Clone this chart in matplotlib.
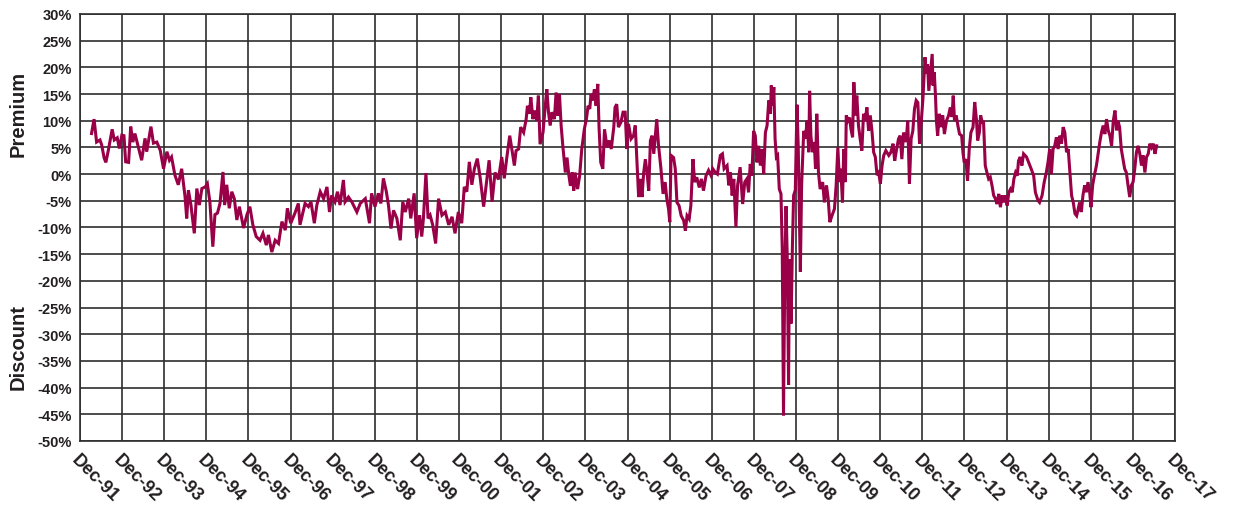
#!/usr/bin/env python3
# -*- coding: utf-8 -*-

import numpy as np
from matplotlib import pyplot as plt
from matplotlib.ticker import FixedLocator

# premium / discount: (decimal year, percent)
trace_92_96 = [
    (1992.19, 7.6), (1992.25, 10.3), (1992.31, 6.0), (1992.39, 6.4), (1992.43, 5.5),
    (1992.49, 3.0), (1992.53, 2.2), (1992.59, 4.5), (1992.68, 8.4), (1992.73, 6.4),
    (1992.80, 6.8), (1992.85, 4.8), (1992.91, 7.3), (1992.96, 7.2), (1993.00, 2.3),
    (1993.07, 2.2), (1993.12, 8.9), (1993.17, 6.0), (1993.22, 7.6), (1993.30, 5.1),
    (1993.38, 2.6), (1993.46, 6.7), (1993.50, 4.2), (1993.60, 8.9), (1993.66, 5.8),
    (1993.74, 6.0), (1993.82, 4.5), (1993.90, 1.0), (1993.98, 4.2), (1994.04, 2.6),
    (1994.09, 3.2), (1994.17, -0.2), (1994.25, -2.0), (1994.33, 1.0), (1994.41, -4.2),
    (1994.45, -8.3), (1994.49, -3.0), (1994.55, -5.8), (1994.63, -11.1), (1994.69, -2.7),
    (1994.75, -5.8), (1994.81, -2.7), (1994.89, -2.4), (1994.94, -1.8), (1995.00, -5.2),
    (1995.07, -13.6), (1995.12, -7.6), (1995.18, -7.3), (1995.24, -5.5), (1995.31, 0.4),
    (1995.35, -5.8), (1995.40, -2.0), (1995.46, -6.4), (1995.52, -3.3), (1995.58, -4.6),
    (1995.64, -8.6), (1995.70, -6.1), (1995.80, -10.1), (1995.88, -7.6), (1995.95, -6.1),
    (1996.02, -9.5), (1996.10, -11.7), (1996.19, -12.4), (1996.26, -11.1), (1996.34, -13.3),
    (1996.39, -11.4), (1996.47, -14.6), (1996.55, -12.4), (1996.63, -13.0), (1996.71, -8.9),
    (1996.79, -10.5), (1996.84, -6.4), (1996.92, -9.2), (1997.02, -7.3), (1997.10, -5.5),
]

trace_97_01 = [
    (1997.14, -9.5), (1997.26, -5.5), (1997.34, -6.1), (1997.40, -5.2), (1997.48, -9.2),
    (1997.54, -5.8), (1997.62, -3.3), (1997.70, -4.6), (1997.78, -2.4), (1997.84, -7.1),
    (1997.89, -4.0), (1997.97, -5.2), (1998.03, -3.3), (1998.09, -5.8), (1998.17, -1.1),
    (1998.21, -5.2), (1998.29, -4.3), (1998.37, -5.2), (1998.49, -7.1), (1998.57, -5.5),
    (1998.69, -4.6), (1998.79, -9.2), (1998.84, -3.6), (1998.92, -6.1), (1999.00, -3.6),
    (1999.06, -5.5), (1999.12, -0.8), (1999.19, -3.3), (1999.24, -5.8), (1999.30, -10.2),
    (1999.36, -6.8), (1999.44, -8.3), (1999.52, -12.4), (1999.58, -5.2), (1999.64, -7.1),
    (1999.72, -4.6), (1999.77, -8.3), (1999.85, -3.6), (1999.91, -12.0), (1999.98, -7.7),
    (2000.03, -11.7), (2000.07, -8.3), (2000.13, 0.2), (2000.18, -8.3), (2000.23, -7.7),
    (2000.29, -9.5), (2000.36, -13.0), (2000.43, -4.6), (2000.51, -7.7), (2000.59, -7.1),
    (2000.67, -9.5), (2000.75, -8.0), (2000.82, -11.1), (2000.90, -7.1), (2000.98, -9.2),
    (2001.04, -2.4), (2001.10, -3.3), (2001.16, 2.3), (2001.22, -2.0), (2001.28, 1.0),
    (2001.35, 2.9), (2001.42, -0.8), (2001.50, -6.1), (2001.58, -0.8), (2001.63, 2.6),
    (2001.70, -5.2), (2001.77, 0.3), (2001.85, -1.0), (2001.93, 3.2), (2001.99, -0.8),
]

trace_02_06 = [
    (2002.05, 3.1), (2002.12, 7.2), (2002.17, 4.7), (2002.23, 1.6), (2002.27, 4.4),
    (2002.33, 4.7), (2002.38, 8.8), (2002.45, 7.8), (2002.51, 10.3), (2002.54, 12.8),
    (2002.59, 11.3), (2002.62, 14.4), (2002.67, 10.3), (2002.72, 11.9), (2002.76, 10.0),
    (2002.80, 14.7), (2002.84, 5.6), (2002.91, 7.8), (2002.96, 12.5), (2003.00, 15.9),
    (2003.04, 11.6), (2003.08, 9.1), (2003.12, 11.6), (2003.18, 10.3), (2003.22, 15.3),
    (2003.26, 10.9), (2003.30, 15.0), (2003.34, 9.1), (2003.38, 5.3), (2003.44, 0.3),
    (2003.48, 3.1), (2003.52, 0.0), (2003.56, -2.2), (2003.60, 0.3), (2003.64, -3.1),
    (2003.67, 0.3), (2003.73, -2.8), (2003.78, -0.3), (2003.83, 4.7), (2003.89, 8.4),
    (2003.94, 10.3), (2003.98, 12.8), (2004.02, 12.2), (2004.05, 15.0), (2004.09, 13.8),
    (2004.13, 15.9), (2004.17, 12.8), (2004.21, 16.9), (2004.24, 8.8), (2004.28, 2.2),
    (2004.33, 1.0), (2004.37, 8.4), (2004.43, 5.0), (2004.48, 6.3), (2004.53, 4.7),
    (2004.59, 8.8), (2004.62, 12.5), (2004.66, 13.1), (2004.70, 8.8), (2004.76, 9.7),
    (2004.81, 11.6), (2004.86, 11.6), (2004.90, 4.7), (2004.94, 9.4), (2005.00, 6.6),
    (2005.06, 7.2), (2005.10, 9.1), (2005.14, 2.2), (2005.18, -4.3), (2005.22, -0.9),
    (2005.26, -4.3), (2005.30, 0.3), (2005.34, 2.8), (2005.38, 0.3), (2005.42, -3.1),
    (2005.46, 6.3), (2005.50, 7.2), (2005.54, 3.8), (2005.58, 7.5), (2005.61, 10.3),
    (2005.65, 5.6), (2005.71, 1.0), (2005.76, -3.7), (2005.81, -1.5), (2005.85, -4.7),
    (2005.89, -6.5), (2005.92, -9.0), (2005.95, 3.5), (2006.01, 3.1), (2006.05, 1.0),
    (2006.09, -5.3), (2006.14, -5.9), (2006.19, -7.8), (2006.25, -8.7), (2006.29, -10.6),
    (2006.33, -7.8), (2006.38, -8.4), (2006.42, -5.9), (2006.47, 2.8), (2006.51, -1.5),
    (2006.56, -0.6), (2006.62, -2.5), (2006.67, -0.9), (2006.72, -3.1), (2006.78, -0.3),
    (2006.84, 0.7), (2006.90, -0.3),
]

trace_07_11 = [
    (2006.94, 1.0), (2007.00, 0.3), (2007.05, 0.0), (2007.12, 3.5), (2007.17, 3.8),
    (2007.21, 1.0), (2007.28, 1.6), (2007.32, -2.1), (2007.36, 0.3), (2007.40, -4.0),
    (2007.44, -0.9), (2007.49, -9.9), (2007.53, -2.1), (2007.59, 1.3), (2007.65, -5.6),
    (2007.70, -1.5), (2007.75, -0.9), (2007.79, -3.4), (2007.83, 1.9), (2007.87, -0.3),
    (2007.91, 8.1), (2007.95, 7.2), (2007.99, 2.2), (2008.03, 5.3), (2008.07, 1.6),
    (2008.11, 4.7), (2008.15, 0.0), (2008.19, 7.8), (2008.23, 9.1), (2008.27, 13.8),
    (2008.31, 11.3), (2008.33, 16.6), (2008.36, 12.8), (2008.39, 16.3), (2008.42, 6.6),
    (2008.45, 3.2), (2008.48, 3.5), (2008.52, -2.8), (2008.56, -3.7),
    # late 2008 collapse
    (2008.59, -14.0), (2008.62, -45.2), (2008.65, -19.0), (2008.68, -6.0), (2008.71, -16.0),
    (2008.74, -39.5), (2008.76, -16.0), (2008.80, -28.0), (2008.83, -14.0), (2008.86, -4.0),
    (2008.90, -3.0), (2008.94, 13.0), (2008.97, 5.0), (2009.02, -18.3), (2009.05, -2.0),
    (2009.10, 8.1), (2009.14, 6.6), (2009.18, 10.0), (2009.22, 4.1), (2009.24, 15.6),
    (2009.27, 7.2), (2009.31, 4.1), (2009.35, 6.0), (2009.38, 1.0), (2009.41, 11.3),
    (2009.45, 0.3), (2009.49, -2.8), (2009.55, -1.5), (2009.59, -5.3), (2009.64, -2.1),
    (2009.68, -4.6), (2009.72, -9.0), (2009.77, -7.8), (2009.83, -6.5), (2009.87, -2.1),
    (2009.91, 5.0), (2009.95, -1.5), (2009.98, 1.0), (2010.02, -5.3), (2010.05, 4.7),
    (2010.09, -1.5), (2010.11, 11.0), (2010.15, 10.0), (2010.19, 10.6), (2010.22, 8.5),
    (2010.26, 6.9), (2010.29, 17.2), (2010.33, 11.0), (2010.36, 14.7), (2010.40, 9.1),
    (2010.44, 6.6), (2010.48, 4.4), (2010.52, 11.3), (2010.56, 10.0), (2010.60, 12.5),
    (2010.64, 8.1), (2010.68, 11.0), (2010.72, 8.1), (2010.76, 4.1), (2010.80, 3.2),
    (2010.84, -0.2), (2010.88, 0.3), (2010.92, -1.8), (2010.96, 1.6), (2011.00, 3.5),
    (2011.05, 4.4), (2011.12, 3.5), (2011.17, 4.1), (2011.22, 5.7), (2011.26, 2.5),
    (2011.30, 4.4), (2011.35, 6.6), (2011.39, 7.2), (2011.43, 2.8), (2011.47, 7.8),
    (2011.53, 6.0), (2011.57, 10.0), (2011.61, -1.8), (2011.65, 6.6), (2011.69, 8.1),
    (2011.73, 12.2), (2011.77, 13.8), (2011.81, 13.4), (2011.85, 5.7), (2011.89, 9.7),
    (2011.93, 14.1),
]

trace_12_17 = [
    (2011.98, 21.9), (2012.01, 18.8), (2012.04, 20.6), (2012.07, 15.6), (2012.11, 19.1),
    (2012.15, 22.5), (2012.17, 16.6), (2012.20, 19.1), (2012.23, 14.4), (2012.25, 10.0),
    (2012.28, 7.2), (2012.32, 11.3), (2012.36, 8.8), (2012.40, 11.0), (2012.44, 7.5),
    (2012.49, 10.0), (2012.54, 11.0), (2012.58, 12.5), (2012.62, 10.7), (2012.65, 14.7),
    (2012.68, 10.0), (2012.72, 11.0), (2012.76, 9.1), (2012.80, 7.5), (2012.85, 7.2),
    (2012.88, 4.1), (2012.91, 2.2), (2012.95, 2.8), (2012.99, -1.2), (2013.03, 4.7),
    (2013.07, 7.8), (2013.12, 8.8), (2013.16, 13.5), (2013.20, 10.3), (2013.23, 6.3),
    (2013.27, 7.8), (2013.30, 11.0), (2013.34, 9.7), (2013.37, 9.7), (2013.41, 1.6),
    (2013.45, 0.3), (2013.49, -0.9), (2013.53, -0.6), (2013.57, -2.1), (2013.61, -4.0),
    (2013.65, -4.6), (2013.69, -5.6), (2013.73, -3.7), (2013.77, -6.2), (2013.81, -4.0),
    (2013.85, -5.3), (2013.89, -4.0), (2013.93, -5.9), (2013.97, -3.4), (2014.01, -2.8),
    (2014.05, -3.4), (2014.09, -0.9), (2014.13, 0.3), (2014.17, -0.3), (2014.20, 2.5),
    (2014.24, 3.2), (2014.28, 1.6), (2014.32, 3.8), (2014.39, 3.2), (2014.44, 2.2),
    (2014.50, 1.0), (2014.56, -0.3), (2014.60, -3.4), (2014.66, -4.9), (2014.70, -5.3),
    (2014.76, -4.0), (2014.81, -1.5), (2014.86, 0.3), (2014.90, 2.2), (2014.94, 4.7),
    (2014.98, 0.0), (2015.02, 4.7), (2015.06, 5.3), (2015.10, 6.9), (2015.14, 4.7),
    (2015.18, 7.2), (2015.22, 5.7), (2015.26, 8.8), (2015.30, 7.8), (2015.34, 4.1),
    (2015.38, 4.7), (2015.42, 0.3), (2015.46, -4.0), (2015.50, -5.3), (2015.54, -7.4),
    (2015.58, -7.8), (2015.61, -6.8), (2015.65, -5.3), (2015.69, -7.1), (2015.73, -4.0),
    (2015.77, -2.1), (2015.81, -3.4), (2015.85, -1.5), (2015.89, -3.4), (2015.92, -6.2),
    (2015.96, -2.1), (2016.00, -0.3), (2016.05, 1.6), (2016.09, 3.8), (2016.13, 6.0),
    (2016.17, 7.8), (2016.21, 9.1), (2016.25, 7.5), (2016.29, 10.3), (2016.33, 8.2),
    (2016.37, 7.2), (2016.41, 5.3), (2016.45, 10.0), (2016.49, 11.9), (2016.53, 8.2),
    (2016.56, 10.0), (2016.60, 8.8), (2016.64, 4.7), (2016.68, 2.8), (2016.72, 1.0),
    (2016.76, 0.3), (2016.80, -2.1), (2016.84, -4.3), (2016.88, -2.1), (2016.92, -1.5),
    (2016.96, 1.0), (2017.00, 4.1), (2017.04, 5.3), (2017.08, 3.8), (2017.12, 1.6),
    (2017.16, 3.5), (2017.20, 0.3), (2017.24, 3.2), (2017.28, 3.8), (2017.32, 5.7),
    (2017.36, 5.0), (2017.40, 5.7), (2017.44, 3.8), (2017.48, 5.3),
]

tick_years = list(range(1991, 2018))
tick_labels = ["Dec-%02d" % (y % 100) for y in tick_years]
y_ticks = list(range(-50, 31, 5))

LINE_COLOR = "#990047"
GRID_COLOR = "#2e2e2e"
TEXT_COLOR = "#231f20"


def main():
    plt.rcParams['font.family'] = ['Liberation Sans', 'DejaVu Sans']
    plt.rcParams['font.weight'] = 'bold'

    data = np.array(trace_92_96 + trace_97_01 + trace_02_06 + trace_07_11 + trace_12_17)

    fig = plt.figure(figsize=(12.33, 5.06), dpi=100)
    ax = fig.add_axes([0.0649, 0.1265, 0.8881, 0.8439])

    ax.plot(data[:, 0], data[:, 1], color=LINE_COLOR, lw=2.2, solid_joinstyle='miter', zorder=3)

    dec_pos = [y + 11 / 12 for y in tick_years]
    ax.set_xlim(dec_pos[0], dec_pos[-1])
    ax.set_ylim(-50, 30)
    ax.xaxis.set_major_locator(FixedLocator(dec_pos))
    ax.set_xticklabels(tick_labels)
    ax.set_yticks(y_ticks)
    ax.set_yticklabels(["%d%%" % v for v in y_ticks])

    ax.grid(True, color=GRID_COLOR, lw=1.2)
    for sp in ax.spines.values():
        sp.set_color(GRID_COLOR)
        sp.set_linewidth(1.2)

    ax.tick_params(axis='both', length=0, colors=TEXT_COLOR)
    ax.tick_params(axis='y', labelsize=10.5, pad=6)
    ax.tick_params(axis='x', labelsize=13, pad=7)
    for lbl in ax.get_xticklabels():
        lbl.set_rotation(-45)
        lbl.set_ha('left')
        lbl.set_va('top')
        lbl.set_rotation_mode('anchor')
        lbl.set_fontweight('bold')
    for lbl in ax.get_yticklabels():
        lbl.set_fontweight('bold')

    fig.text(0.0146, 1 - 114 / 506, "Premium", rotation=90, ha='center', va='center',
             fontsize=14.5, fontweight='bold', color=TEXT_COLOR)
    fig.text(0.0146, 1 - 347 / 506, "Discount", rotation=90, ha='center', va='center',
             fontsize=14.5, fontweight='bold', color=TEXT_COLOR)

    fig.savefig("out.png", dpi=100)


if __name__ == "__main__":
    main()
